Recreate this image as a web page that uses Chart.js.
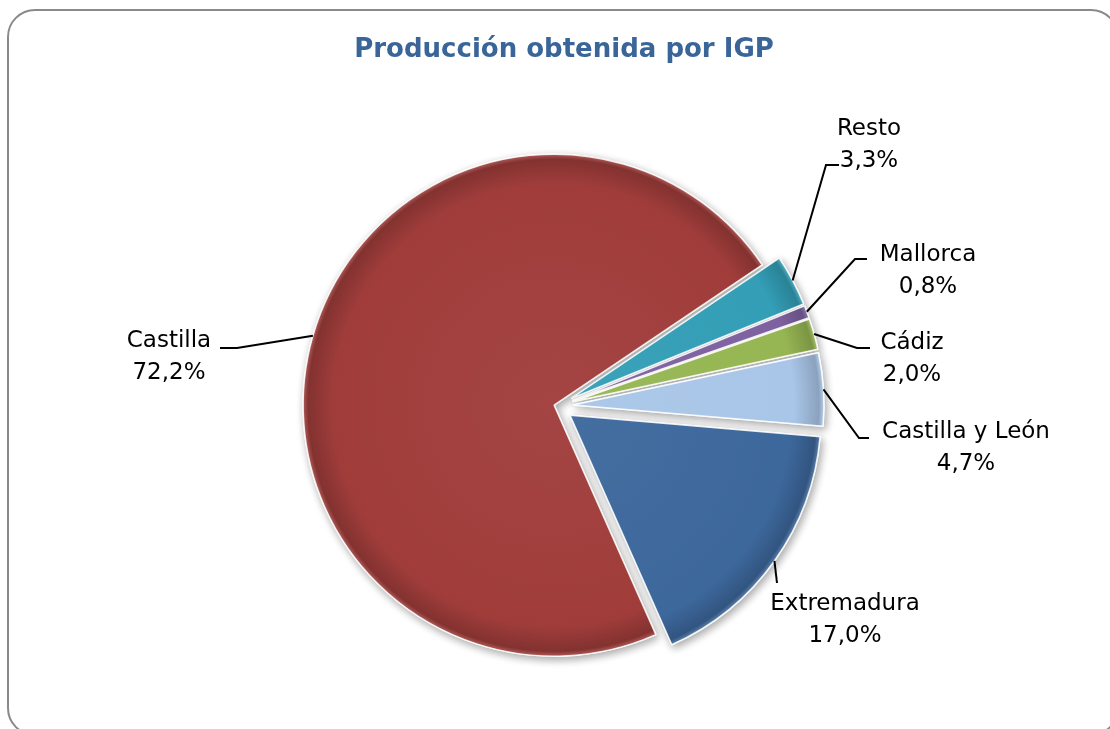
<!DOCTYPE html>
<html>
<head>
<meta charset="utf-8">
<script src="https://cdn.jsdelivr.net/npm/chart.js@4.4.1/dist/chart.umd.min.js"></script>
<style>
    body { margin: 0; background: #ffffff; overflow: hidden; }
    .frame {
        position: absolute;
        left: 7px;
        top: 9px;
        width: 1108px;
        height: 723px;
        border: 2px solid #8a8a8a;
        border-radius: 28px;
    }
    #chart { position: absolute; left: 0; top: 0; }
</style>
</head>
<body>
<div class="frame"></div>
<canvas id="chart" width="1110" height="729"></canvas>
<script>
const chartTitle = 'Producción obtenida por IGP';
const categories = ['Resto', 'Mallorca', 'Cádiz', 'Castilla y León', 'Extremadura', 'Castilla'];
const shares = [3.3, 0.8, 2.0, 4.7, 17.0, 72.2];

const sliceColors = ['#339EB6', '#7E62A0', '#96B653', '#A9C6E8', '#3D689C', '#A03D3B'];
const sliceExplode = [16, 16, 16, 16, 16, 3];

// where each label goes: text centre x, first baseline y, elbow of the leader, end of the stub
const labelSpots = [
    { x: 869, y: 135, ex: 826, ey: 165, hx: 839 },
    { x: 928, y: 261, ex: 855, ey: 259, hx: 867 },
    { x: 912, y: 349, ex: 857, ey: 348, hx: 870 },
    { x: 966, y: 438, ex: 859, ey: 438, hx: 869 },
    { x: 845, y: 610, ex: 777, ey: 583, hx: 777 },
    { x: 169, y: 347, ex: 237, ey: 348, hx: 220 }
];

const pieRadius = 251;
const labelFont = '23px "DejaVu Sans"';

function shade(hex, amt) {
    const n = parseInt(hex.slice(1), 16);
    let r = (n >> 16) & 255, g = (n >> 8) & 255, b = n & 255;
    const t = amt < 0 ? 0 : 255;
    const p = Math.abs(amt);
    r = Math.round(r + (t - r) * p);
    g = Math.round(g + (t - g) * p);
    b = Math.round(b + (t - b) * p);
    return 'rgb(' + r + ',' + g + ',' + b + ')';
}

function sliceFill(c) {
    const i = c.dataIndex === undefined ? 0 : c.dataIndex;
    const base = sliceColors[i];
    const area = c.chart.chartArea;
    if (!area) return base;
    const cx = (area.left + area.right) / 2;
    const cy = (area.top + area.bottom) / 2;
    const g = c.chart.ctx.createRadialGradient(cx, cy, 0, cx, cy, pieRadius);
    g.addColorStop(0, shade(base, 0.04));
    g.addColorStop(0.88, base);
    g.addColorStop(0.98, shade(base, -0.18));
    g.addColorStop(1, shade(base, 0.15));
    return g;
}

// pull each slice out along its middle angle, with a soft shadow underneath
const explodePlugin = {
    id: 'explode',
    beforeDatasetDraw(chart, args) {
        const ctx = chart.ctx;
        const arcs = args.meta.data;
        for (let pass = 0; pass < 2; pass++) {
            arcs.forEach((arc, i) => {
                const mid = (arc.startAngle + arc.endAngle) / 2;
                const d = sliceExplode[i];
                ctx.save();
                ctx.translate(Math.cos(mid) * d, Math.sin(mid) * d);
                if (pass === 0) {
                    ctx.shadowColor = 'rgba(0,0,0,0.35)';
                    ctx.shadowBlur = 8;
                    ctx.shadowOffsetX = 2;
                    ctx.shadowOffsetY = 3;
                }
                arc.draw(ctx);
                ctx.restore();
            });
        }
        return false;
    }
};

const labelPlugin = {
    id: 'outsideLabels',
    afterDatasetsDraw(chart) {
        const ctx = chart.ctx;
        const arcs = chart.getDatasetMeta(0).data;

        ctx.save();
        ctx.font = 'bold 26px "DejaVu Sans"';
        ctx.fillStyle = '#3A6599';
        ctx.textAlign = 'center';
        ctx.textBaseline = 'alphabetic';
        ctx.fillText(chartTitle, 564, 57);

        ctx.strokeStyle = '#000000';
        ctx.lineWidth = 2;
        ctx.font = labelFont;
        ctx.fillStyle = '#000000';

        arcs.forEach((arc, i) => {
            const mid = (arc.startAngle + arc.endAngle) / 2;
            const rr = arc.outerRadius + sliceExplode[i];
            const ax = arc.x + Math.cos(mid) * rr;
            const ay = arc.y + Math.sin(mid) * rr;
            const s = labelSpots[i];

            ctx.beginPath();
            ctx.moveTo(ax, ay);
            ctx.lineTo(s.ex, s.ey);
            ctx.lineTo(s.hx, s.ey);
            ctx.stroke();

            const pct = shares[i].toFixed(1).replace('.', ',') + '%';
            ctx.fillText(categories[i], s.x, s.y);
            ctx.fillText(pct, s.x, s.y + 32);
        });
        ctx.restore();
    }
};

new Chart(document.getElementById('chart'), {
    type: 'pie',
    data: {
        labels: categories,
        datasets: [{
            data: shares,
            backgroundColor: sliceFill,
            borderColor: 'rgba(255,255,255,0.85)',
            borderWidth: 1.5
        }]
    },
    options: {
        responsive: false,
        animation: false,
        rotation: 56,
        radius: pieRadius,
        layout: { padding: { left: 4, right: 0, top: 83, bottom: 0 } },
        plugins: {
            legend: { display: false },
            tooltip: { enabled: false },
            title: { display: false }
        }
    },
    plugins: [explodePlugin, labelPlugin]
});
</script>
</body>
</html>
